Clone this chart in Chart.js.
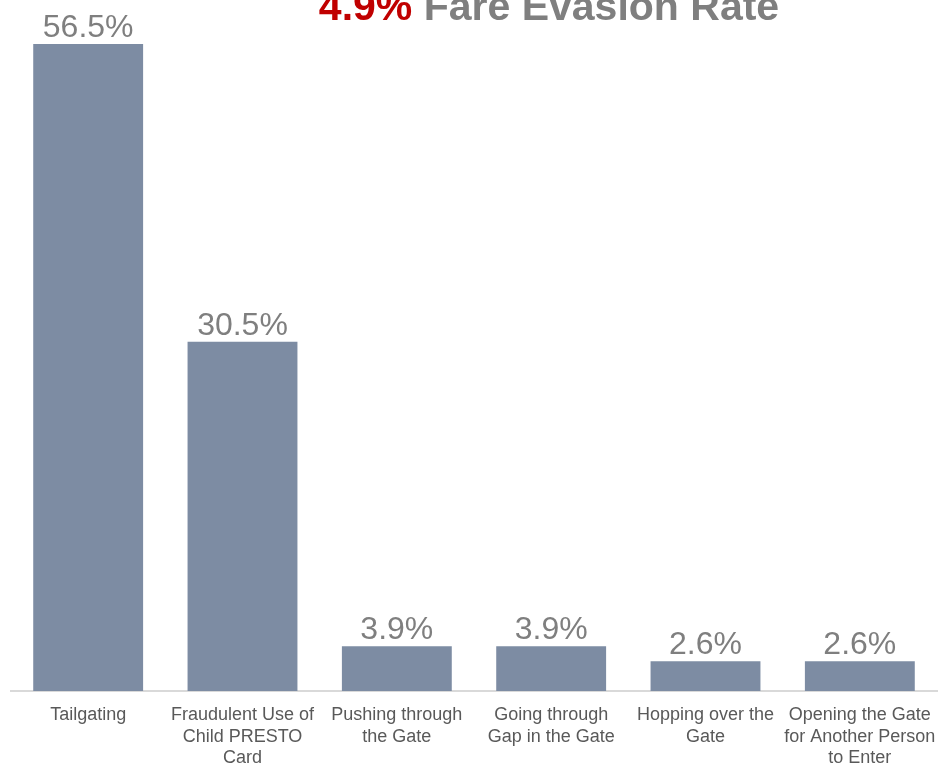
<!DOCTYPE html>
<html>
<head>
<meta charset="utf-8">
<script src="https://cdn.jsdelivr.net/npm/chart.js@4.4.1/dist/chart.umd.min.js"></script>
<style>
html,body{margin:0;padding:0;background:#fff;}
#wrap{width:941px;height:765px;position:relative;}
</style>
</head>
<body>
<div id="wrap"><canvas id="c" width="941" height="765"></canvas></div>
<script>
const categories = [
  ["Tailgating"],
  ["Fraudulent Use of", "Child PRESTO", "Card"],
  ["Pushing through", "the Gate"],
  ["Going through", "Gap in the Gate"],
  ["Hopping over the", "Gate"],
  ["Opening the Gate", "for Another Person", "to Enter"]
];
const values = [56.5, 30.5, 3.9, 3.9, 2.6, 2.6];
const titleHighlight = "4.9%";
const titleRest = " Fare Evasion Rate";

const FONT = "'Liberation Sans', Arial, Helvetica, sans-serif";

const titlePlugin = {
  id: 'customTitle',
  afterDraw(chart) {
    const ctx = chart.ctx;
    ctx.save();
    ctx.font = "bold 41px " + FONT;
    ctx.textBaseline = 'alphabetic';
    ctx.textAlign = 'left';
    const w1 = ctx.measureText(titleHighlight).width;
    const w2 = ctx.measureText(titleRest).width;
    const cx = 549;
    let x = cx - (w1 + w2) / 2;
    ctx.fillStyle = '#c00000';
    ctx.fillText(titleHighlight, x, 20);
    ctx.fillStyle = '#7f7f7f';
    ctx.fillText(titleRest, x + w1, 20);
    ctx.restore();
  }
};

const labelPlugin = {
  id: 'valueLabels',
  afterDatasetsDraw(chart) {
    const ctx = chart.ctx;
    const meta = chart.getDatasetMeta(0);
    ctx.save();
    ctx.font = "32px " + FONT;
    ctx.fillStyle = '#7f7f7f';
    ctx.textAlign = 'center';
    ctx.textBaseline = 'alphabetic';
    meta.data.forEach((bar, i) => {
      ctx.fillText(values[i].toFixed(1) + '%', bar.x, bar.y - 7);
    });
    ctx.restore();
  }
};

new Chart(document.getElementById('c'), {
  type: 'bar',
  data: {
    labels: categories,
    datasets: [{
      data: values,
      backgroundColor: '#7d8ca3',
      borderWidth: 0,
      categoryPercentage: 0.712,
      barPercentage: 1.0
    }]
  },
  options: {
    responsive: false,
    animation: false,
    layout: { padding: { top: 44, left: 11, right: 4, bottom: 0 } },
    plugins: {
      legend: { display: false },
      tooltip: { enabled: false },
      title: { display: false }
    },
    scales: {
      x: {
        grid: { display: false, drawTicks: false },
        border: { display: true, color: '#d9d9d9', width: 2 },
        ticks: {
          color: '#595959',
          font: { family: FONT, size: 18, lineHeight: 1.17 },
          padding: 14,
          maxRotation: 0,
          autoSkip: false
        },
        afterFit(scale) {
          scale.height = 74;
          scale.paddingLeft = 0;
          scale.paddingRight = 0;
        }
      },
      y: {
        display: false,
        min: 0,
        max: 56.5
      }
    }
  },
  plugins: [titlePlugin, labelPlugin]
});
</script>
</body>
</html>
